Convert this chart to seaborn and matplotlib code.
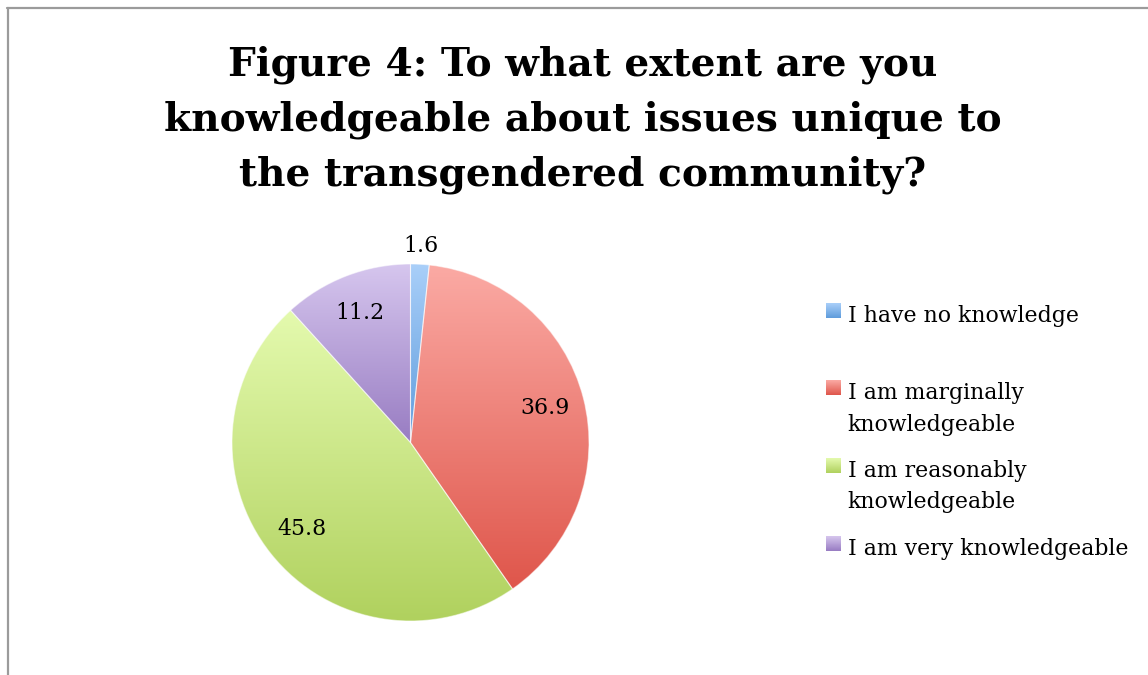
import numpy as np
import matplotlib
matplotlib.use("Agg")
import matplotlib.pyplot as plt
import seaborn as sns
from matplotlib.colors import LinearSegmentedColormap
from matplotlib.lines import Line2D
from matplotlib.patches import Rectangle

# ---- data ----
categories = ["I have no knowledge",
              "I am marginally\nknowledgeable",
              "I am reasonably\nknowledgeable",
              "I am very knowledgeable"]
values = [1.6, 36.9, 45.8, 11.2]
value_labels = ["1.6", "36.9", "45.8", "11.2"]
title_lines = ["Figure 4: To what extent are you",
               "knowledgeable about issues unique to",
               "the transgendered community?"]

# gradient colours (top, bottom) per slice
grad_top = ["#A9CFF9", "#FBAAA4", "#E4FAAE", "#D6C6EE"]
grad_bot = ["#5F9CDC", "#DF564B", "#B0D15E", "#987CC2"]

sns.set_theme(style="white")
plt.rcParams["font.family"] = ["DejaVu Serif"]

W, H = 1148, 675
fig = plt.figure(figsize=(W / 100, H / 100), dpi=100)
fig.patch.set_facecolor("white")

# pie axes: centre (410.5, 442.5) px, radius 178.5 px
R = 178.5
cx, cy = 410.5, 442.5
half = R * 1.1
ax = fig.add_axes([(cx - half) / W, (H - cy - half) / H, 2 * half / W, 2 * half / H])
wedges, _ = ax.pie(values, startangle=90, counterclock=False, radius=1.0,
                   wedgeprops=dict(linewidth=0))

gx = np.linspace(0, 1, 2)
for i, w in enumerate(wedges):
    ext = w.get_path().get_extents()
    cmap = LinearSegmentedColormap.from_list(f"g{i}", [grad_bot[i], grad_top[i]])
    grad = np.linspace(0, 1, 256)[:, None] * np.ones((1, 2))
    im = ax.imshow(grad, extent=[ext.x0, ext.x1, ext.y0, ext.y1], origin="lower",
                   cmap=cmap, aspect="auto", zorder=1, interpolation="bilinear")
    im.set_clip_path(w)
    w.set_facecolor("none")
    w.set_edgecolor((1, 1, 1, 0.5))
    w.set_linewidth(0.8)
    w.set_zorder(2)

ax.set_aspect("equal")
ax.set_xlim(-1.1, 1.1)
ax.set_ylim(-1.1, 1.1)
ax.axis("off")

# value labels
fig.canvas.draw()
renderer = fig.canvas.get_renderer()


def fit_size(text, target_px, weight="normal", base=20):
    t = fig.text(0, 0, text, fontsize=base, fontweight=weight)
    wpx = t.get_window_extent(renderer).width
    t.remove()
    return base * target_px / wpx


lab_fs = fit_size("I have no knowledge", 231)

total = sum(values)
for w, lbl, v in zip(wedges, value_labels, values):
    mid = np.deg2rad((w.theta1 + w.theta2) / 2)
    r = 1.105 if v / total < 0.05 else 0.78
    ax.text(r * np.cos(mid), r * np.sin(mid), lbl, ha="center", va="center",
            fontsize=lab_fs, color="black", zorder=5)

# title
title_fs = fit_size(title_lines[1], 840, weight="bold")
title_baselines = [75, 130.5, 186]
for line, yb in zip(title_lines, title_baselines):
    fig.text(583 / W, 1 - yb / H, line, ha="center", va="baseline",
             fontsize=title_fs, fontweight="bold", color="black")

# legend (manual layout)
sq_tops = [303, 380, 458, 536]
baselines = [321.7, 399, 476.7, 555]
line_gap = 31.5
for i, (lab, st, bl) in enumerate(zip(categories, sq_tops, baselines)):
    # gradient square
    lax = fig.add_axes([826 / W, 1 - (st + 15) / H, 15 / W, 15 / H])
    cmap = LinearSegmentedColormap.from_list(f"l{i}", [grad_bot[i], grad_top[i]])
    lax.imshow(np.linspace(0, 1, 64)[:, None] * np.ones((1, 2)), origin="lower",
               cmap=cmap, aspect="auto", extent=[0, 1, 0, 1])
    lax.axis("off")
    for j, part in enumerate(lab.split("\n")):
        fig.text(847.5 / W, 1 - (bl + j * line_gap) / H, part, ha="left",
                 va="baseline", fontsize=lab_fs, color="black")

# frame lines (top and left)
fig.add_artist(Line2D([7 / W, 1], [1 - 7.5 / H, 1 - 7.5 / H], transform=fig.transFigure,
                      color="#9b9b9b", lw=1.6))
fig.add_artist(Line2D([7.5 / W, 7.5 / W], [1 - 7.5 / H, 0], transform=fig.transFigure,
                      color="#9b9b9b", lw=1.6))

fig.savefig("out.png", dpi=100, facecolor="white")
